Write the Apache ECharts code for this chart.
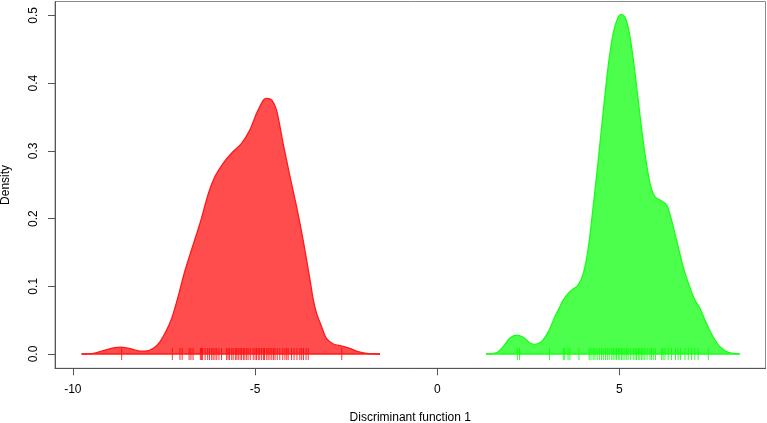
<!DOCTYPE html>
<html>
<head>
<meta charset="utf-8">
<script src="https://cdn.jsdelivr.net/npm/echarts@6/dist/echarts.min.js"></script>
<style>
html,body{margin:0;padding:0;background:#fff;}
#chart{width:767px;height:423px;}
</style>
</head>
<body>
<div id="chart"></div>
<script>
// Density curve of group 1 (red)
var redX = [-9.76,-9.44,-9.17,-8.89,-8.68,-8.43,-8.16,-8.00,-7.79,-7.61,-7.43,-7.29,-7.11,-6.95,-6.79,-6.51,-6.28,-6.10,-5.87,-5.60,-5.37,-5.14,-4.96,-4.77,-4.68,-4.54,-4.41,-4.23,-4.04,-3.86,-3.68,-3.49,-3.40,-3.31,-3.17,-3.04,-2.85,-2.62,-2.40,-2.17,-1.94,-1.57];
var redY = [0.000,0.001,0.005,0.009,0.0103,0.0078,0.0044,0.0044,0.0084,0.018,0.035,0.052,0.085,0.118,0.146,0.193,0.237,0.262,0.282,0.299,0.311,0.331,0.355,0.375,0.3776,0.375,0.360,0.311,0.262,0.2175,0.168,0.109,0.080,0.060,0.040,0.023,0.0148,0.0118,0.0084,0.0034,0.001,0.000];
// Density curve of group 2 (green)
var greenX = [1.34,1.63,1.81,1.99,2.18,2.36,2.54,2.68,2.86,3.05,3.23,3.37,3.46,3.64,3.87,4.01,4.14,4.28,4.42,4.56,4.69,4.83,4.97,5.06,5.17,5.29,5.43,5.57,5.70,5.84,5.98,6.16,6.30,6.43,6.57,6.75,6.93,7.07,7.21,7.39,7.57,7.76,7.99,8.30];
var greenY = [0.000,0.002,0.0108,0.0232,0.028,0.0247,0.0167,0.0143,0.0182,0.033,0.055,0.070,0.080,0.092,0.102,0.119,0.154,0.2175,0.2865,0.360,0.424,0.4736,0.498,0.5016,0.4957,0.4685,0.4145,0.350,0.296,0.252,0.232,0.226,0.220,0.198,0.168,0.129,0.099,0.080,0.0675,0.045,0.0255,0.0108,0.0025,0.000];
// Rug (individual observations)
var redRug = [-8.66,-7.27,-7.06,-7.00,-6.81,-6.76,-6.70,-6.50,-6.47,-6.44,-6.37,-6.30,-6.25,-6.19,-6.15,-6.10,-6.05,-5.99,-5.92,-5.78,-5.74,-5.70,-5.64,-5.60,-5.54,-5.50,-5.46,-5.41,-5.37,-5.32,-5.28,-5.23,-5.19,-5.13,-5.05,-5.00,-4.96,-4.91,-4.87,-4.82,-4.77,-4.74,-4.68,-4.64,-4.59,-4.54,-4.49,-4.45,-4.39,-4.32,-4.24,-4.18,-4.13,-4.09,-4.00,-3.93,-3.85,-3.77,-3.72,-3.67,-3.60,-3.54,-2.62];
var greenRug = [2.20,2.26,3.08,3.46,3.50,3.59,3.64,3.89,4.17,4.22,4.28,4.33,4.39,4.45,4.51,4.56,4.62,4.67,4.72,4.79,4.83,4.88,4.92,4.97,5.01,5.06,5.10,5.15,5.20,5.24,5.31,5.38,5.43,5.47,5.52,5.56,5.61,5.65,5.70,5.76,5.84,5.88,5.93,5.99,6.16,6.20,6.25,6.34,6.43,6.54,6.61,6.68,6.80,6.89,6.98,7.07,7.16,7.44];
// Axes
var xTicks = [-10,-5,0,5];
var yTicks = [0,0.1,0.2,0.3,0.4,0.5];
var xTitle = 'Discriminant function 1';
var yTitle = 'Density';

function zip(xs, ys){ return xs.map(function(x,i){ return [x, ys[i]]; }); }
function baseline(xs){ return [[xs[0],0],[xs[xs.length-1],0]]; }
function rug(xs){ return xs.map(function(x){ return [x,0]; }); }

var FONT = 'Liberation Sans, Arial, sans-serif';
var chart = echarts.init(document.getElementById('chart'), null, {renderer:'canvas'});
chart.setOption({
  animation:false,
  backgroundColor:'#fff',
  grid:{left:55,right:1.5,top:1.5,bottom:54.7,containLabel:false,outerBoundsMode:'none',
        show:true,borderColor:'#8a8a8a',borderWidth:1,backgroundColor:'transparent'},
  xAxis:{
    type:'value', min:-10.49, max:9.01,
    name:xTitle, nameLocation:'middle', nameGap:43,
    nameTextStyle:{fontFamily:FONT,fontSize:12,color:'#000'},
    axisLine:{show:true,onZero:false,lineStyle:{color:'#555',width:1}},
    axisTick:{show:true,length:7,customValues:xTicks,lineStyle:{color:'#555'}},
    axisLabel:{customValues:xTicks,margin:15,fontFamily:FONT,fontSize:12,color:'#000'},
    splitLine:{show:false}
  },
  yAxis:{
    type:'value', min:-0.0211, max:0.5205,
    name:yTitle, nameLocation:'middle', nameGap:43,
    nameTextStyle:{fontFamily:FONT,fontSize:12,color:'#000'},
    axisLine:{show:true,onZero:false,lineStyle:{color:'#555',width:1}},
    axisTick:{show:true,length:7,customValues:yTicks,lineStyle:{color:'#555'}},
    axisLabel:{customValues:yTicks,rotate:90,margin:15,fontFamily:FONT,fontSize:12,color:'#000',
      formatter:function(v){return v.toFixed(1);}},
    splitLine:{show:false}
  },
  series:[
    {type:'line',data:zip(redX,redY),smooth:0.3,symbol:'none',silent:true,
     lineStyle:{color:'#ff1a1a',width:1.3},areaStyle:{color:'#ff0000',opacity:0.7,origin:0}},
    {type:'line',data:baseline(redX),symbol:'none',silent:true,lineStyle:{color:'#ff1a1a',width:1.3}},
    {type:'line',data:zip(greenX,greenY),smooth:0.3,symbol:'none',silent:true,
     lineStyle:{color:'#1aff1a',width:1.3},areaStyle:{color:'#00ff00',opacity:0.7,origin:0}},
    {type:'line',data:baseline(greenX),symbol:'none',silent:true,lineStyle:{color:'#1aff1a',width:1.3}},
    {type:'scatter',data:rug(redRug),symbol:'rect',symbolSize:[1,12],silent:true,itemStyle:{color:'#ff0000'}},
    {type:'scatter',data:rug(greenRug),symbol:'rect',symbolSize:[1,12],silent:true,itemStyle:{color:'#00ff00'}}
  ]
});
</script>
</body>
</html>
